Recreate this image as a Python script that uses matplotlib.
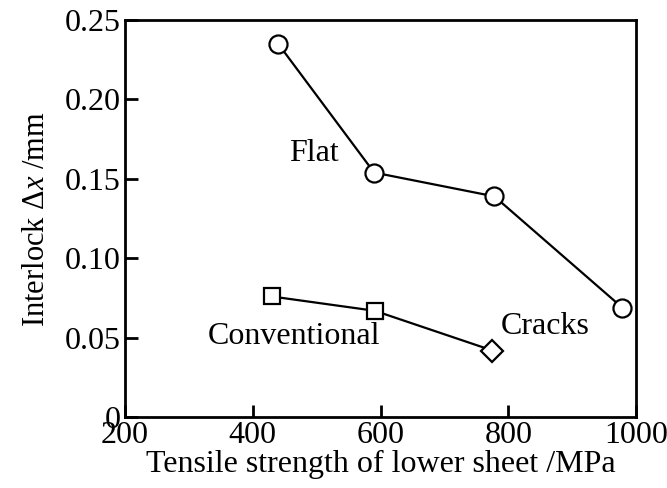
import matplotlib.pyplot as plt

plt.rcParams['font.family'] = ['Liberation Serif', 'DejaVu Serif']
plt.rcParams['mathtext.fontset'] = 'custom'
plt.rcParams['mathtext.it'] = 'Liberation Serif:italic'
plt.rcParams['mathtext.rm'] = 'Liberation Serif'

flat_x = [440, 590, 778, 978]
flat_y = [0.235, 0.154, 0.139, 0.069]
conv_x = [430, 591, 775]
conv_y = [0.076, 0.067, 0.042]
crack_x = [775]
crack_y = [0.042]

xticks = [200, 400, 600, 800, 1000]
yticks = [0, 0.05, 0.10, 0.15, 0.20, 0.25]
yticklabels = ['0', '0.05', '0.10', '0.15', '0.20', '0.25']

fig = plt.figure(figsize=(6.67, 4.88), dpi=100)
ax = fig.add_axes([0.187, 0.145, 0.767, 0.814])

ax.plot(flat_x, flat_y, color='black', lw=1.6, marker='o', ms=13,
        mfc='white', mec='black', mew=1.6)
ax.plot(conv_x, conv_y, color='black', lw=1.6, zorder=2)
ax.plot(conv_x[:2], conv_y[:2], ls='none', marker='s', ms=12,
        mfc='white', mec='black', mew=1.6, zorder=3)
ax.plot(crack_x, crack_y, ls='none', marker='D', ms=11,
        mfc='white', mec='black', mew=1.6, zorder=3)

ax.text(496, 0.166, 'Flat', fontsize=23, ha='center', va='center')
ax.text(465, 0.051, 'Conventional', fontsize=23, ha='center', va='center')
ax.text(858, 0.057, 'Cracks', fontsize=23, ha='center', va='center')

ax.set_xlim(200, 1000)
ax.set_ylim(0, 0.25)
ax.set_xticks(xticks)
ax.set_yticks(yticks)
ax.set_yticklabels(yticklabels)
ax.tick_params(direction='in', length=9, width=2, labelsize=23, pad=3)
for s in ax.spines.values():
    s.set_linewidth(2)

ax.set_xlabel('Tensile strength of lower sheet /MPa', fontsize=23, labelpad=0)
ax.set_ylabel(r'Interlock $\mathit{\Delta x}$ /mm', fontsize=22, labelpad=10)

fig.savefig('out.png', dpi=100)
